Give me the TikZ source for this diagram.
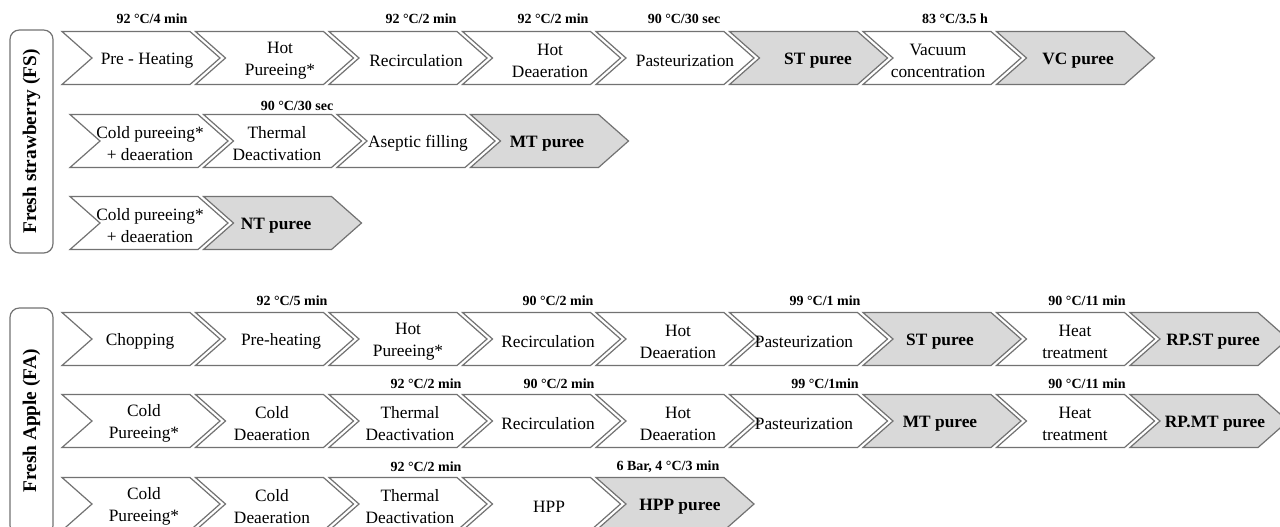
\documentclass[tikz,border=0pt]{standalone}
\usepackage{fontspec}
\setmainfont{Liberation Serif}
\definecolor{edgegray}{HTML}{727272}
\definecolor{pureefill}{HTML}{D9D9D9}
\tikzset{
  chevline/.style={draw=edgegray, line width=0.9pt, line join=miter},
  steptext/.style={font=\fontsize{13}{16.5}\selectfont, align=center, inner sep=0pt, yshift=-2pt},
  cond/.style={font=\fontsize{10.5}{12}\selectfont\bfseries, inner sep=0pt},
  sidebox/.style={draw=edgegray, line width=0.9pt, rounded corners=7pt},
  sidetext/.style={font=\fontsize{14.5}{16}\selectfont\bfseries, rotate=90, inner sep=0pt}
}
% #1 left x, #2 centre y, #3 fill, #4 node name, #5 text centre x, #6 text
\newcommand\chv[6]{%
  \draw[chevline, fill=#3] (#1,#2-26.5) -- ++(128,0) -- ++(30,26.5) -- ++(-30,26.5)
    -- ++(-128,0) -- ++(30,-26.5) -- cycle;
  \node[steptext] (#4) at (#5,#2) {#6};
}
\begin{document}
\begin{tikzpicture}[x=0.75pt, y=-0.75pt]
\useasboundingbox (0,0) rectangle (1280,526);
\clip (0,0) rectangle (1280,526);

% ---------- Fresh strawberry ----------
\draw[sidebox] (10,30) rectangle (53,253);
\node[sidetext] (fs) at (31.5,141.5) {Fresh strawberry (FS)};

% row 1
\chv{62}{58}{white}{fa1}{147}{Pre - Heating}
\chv{195.5}{58}{white}{fa2}{280}{Hot\\Pureeing*}
\chv{329}{58}{white}{fa3}{416}{Recirculation}
\chv{462.5}{58}{white}{fa4}{550}{Hot\\Deaeration}
\chv{596}{58}{white}{fa5}{685}{Pasteurization}
\chv{729.5}{58}{pureefill}{fa6}{818}{\textbf{ST puree}}
\chv{863}{58}{white}{fa7}{938}{Vacuum\\concentration}
\chv{996.5}{58}{pureefill}{fa8}{1078}{\textbf{VC puree}}
\node[cond] (fc1) at (152,19) {92 °C/4 min};
\node[cond] (fc2) at (421,19) {92 °C/2 min};
\node[cond] (fc3) at (553,19) {92 °C/2 min};
\node[cond] (fc4) at (684,19) {90 °C/30 sec};
\node[cond] (fc5) at (955,19) {83 °C/3.5 h};

% row 2
\chv{70}{141}{white}{fb1}{150}{Cold pureeing*\\+ deaeration}
\chv{203.5}{141}{white}{fb2}{277}{Thermal\\Deactivation}
\chv{337}{141}{white}{fb3}{418}{Aseptic filling}
\chv{470.5}{141}{pureefill}{fb4}{547}{\textbf{MT puree}}
\node[cond] (fc6) at (297,106) {90 °C/30 sec};

% row 3
\chv{70}{223}{white}{fd1}{150}{Cold pureeing*\\+ deaeration}
\chv{203.5}{223}{pureefill}{fd2}{276}{\textbf{NT puree}}

% ---------- Fresh apple ----------
\draw[sidebox] (10,308) rectangle (53,535);
\node[sidetext] (fa) at (31.5,421) {Fresh Apple (FA)};

% row 1
\chv{62}{339}{white}{aa1}{140}{Chopping}
\chv{195.5}{339}{white}{aa2}{281}{Pre-heating}
\chv{329}{339}{white}{aa3}{408}{Hot\\Pureeing*}
\chv{462.5}{339}{white}{aa4}{548}{Recirculation}
\chv{596}{339}{white}{aa5}{678}{Hot\\Deaeration}
\chv{729.5}{339}{white}{aa6}{804}{Pasteurization}
\chv{863}{339}{pureefill}{aa7}{940}{\textbf{ST puree}}
\chv{996.5}{339}{white}{aa8}{1075}{Heat\\treatment}
\chv{1130}{339}{pureefill}{aa9}{1213}{\textbf{RP.ST puree}}
\node[cond] (ac1) at (292,301) {92 °C/5 min};
\node[cond] (ac2) at (558,301) {90 °C/2 min};
\node[cond] (ac3) at (825,301) {99 °C/1 min};
\node[cond] (ac4) at (1087,301) {90 °C/11 min};

% row 2
\chv{62}{421}{white}{ab1}{144}{Cold\\Pureeing*}
\chv{195.5}{421}{white}{ab2}{272}{Cold\\Deaeration}
\chv{329}{421}{white}{ab3}{410}{Thermal\\Deactivation}
\chv{462.5}{421}{white}{ab4}{548}{Recirculation}
\chv{596}{421}{white}{ab5}{678}{Hot\\Deaeration}
\chv{729.5}{421}{white}{ab6}{804}{Pasteurization}
\chv{863}{421}{pureefill}{ab7}{940}{\textbf{MT puree}}
\chv{996.5}{421}{white}{ab8}{1075}{Heat\\treatment}
\chv{1130}{421}{pureefill}{ab9}{1215}{\textbf{RP.MT puree}}
\node[cond] (ac5) at (426,384) {92 °C/2 min};
\node[cond] (ac6) at (559,384) {90 °C/2 min};
\node[cond] (ac7) at (825,384) {99 °C/1min};
\node[cond] (ac8) at (1087,384) {90 °C/11 min};

% row 3
\chv{62}{504}{white}{ad1}{144}{Cold\\Pureeing*}
\chv{195.5}{504}{white}{ad2}{272}{Cold\\Deaeration}
\chv{329}{504}{white}{ad3}{410}{Thermal\\Deactivation}
\chv{462.5}{504}{white}{ad4}{549}{HPP}
\chv{596}{504}{pureefill}{ad5}{680}{\textbf{HPP puree}}
\node[cond] (ac9) at (426,467) {92 °C/2 min};
\node[cond] (ac10) at (668,467) {6 Bar, 4 °C/3 min};
\end{tikzpicture}
\end{document}
